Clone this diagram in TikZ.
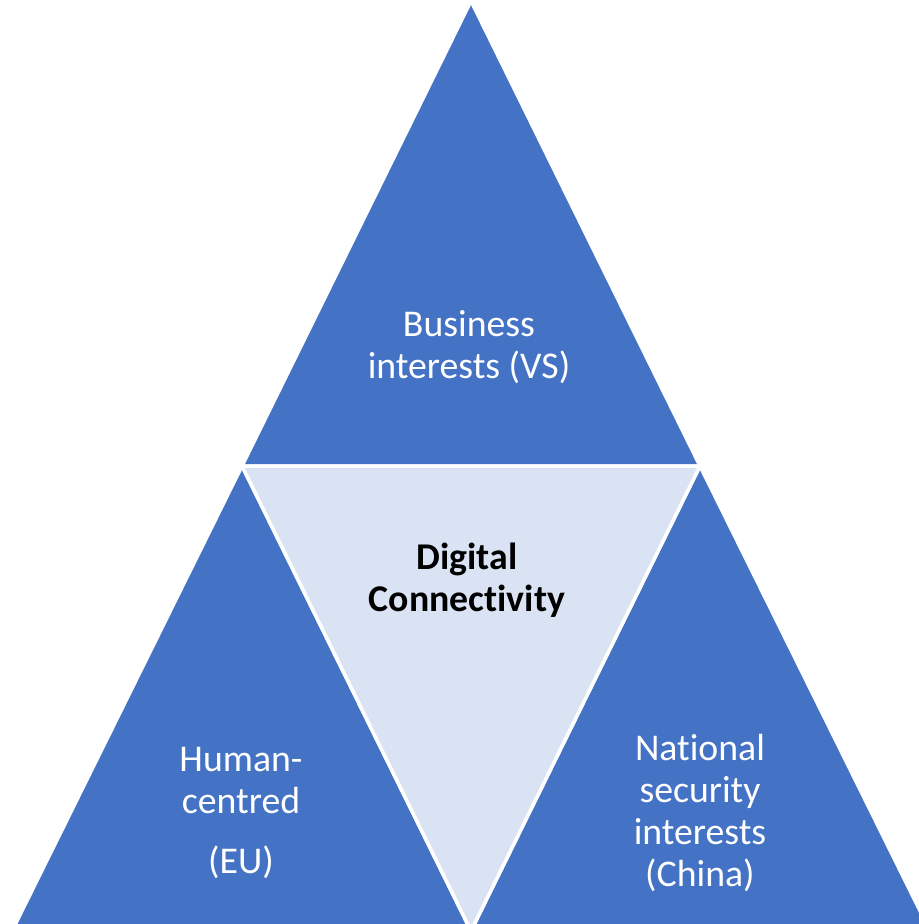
\documentclass[tikz,border=0pt]{standalone}
\usepackage{fontspec}
\setmainfont{Carlito}[Ligatures=NoCommon]
\definecolor{triblue}{HTML}{4472C4}
\definecolor{trilight}{HTML}{DAE3F3}
\tikzset{
  tri/.style={fill=triblue, draw=white, line width=2pt, line join=miter},
  lbl/.style={align=center, text=white, inner sep=0pt,
    font=\fontsize{21.5}{23.9}\selectfont}
}

\begin{document}
\begin{tikzpicture}[x=0.02cm, y=-0.02cm]
        \useasboundingbox (0,0) rectangle (919,924);
        \begin{scope}
        \clip (0,0) rectangle (919,924);
        \draw [tri] (471,1) -- (242,466) -- (700,466) -- cycle;
        \draw [tri] (242,466) -- (12,931) -- (471,931) -- cycle;
        \draw [tri] (700,466) -- (471,931) -- (930,931) -- cycle;
        \draw [tri, fill=trilight] (242,466) -- (700,466) -- (471,931) -- cycle;
        \end{scope}

        \node [lbl] (business) at (469,347) {Business\\interests (VS)};
        \node [lbl, text=black, font=\fontsize{21.5}{23.9}\selectfont\bfseries]
          (digital) at (467,580) {Digital\\Connectivity};
        \node [lbl] (human) at (241,813) {Human-\\centred\\[0.5em](EU)};
        \node [lbl] (national) at (700,813)
          {National\\security\\interests\\(China)};
\end{tikzpicture}
\end{document}
